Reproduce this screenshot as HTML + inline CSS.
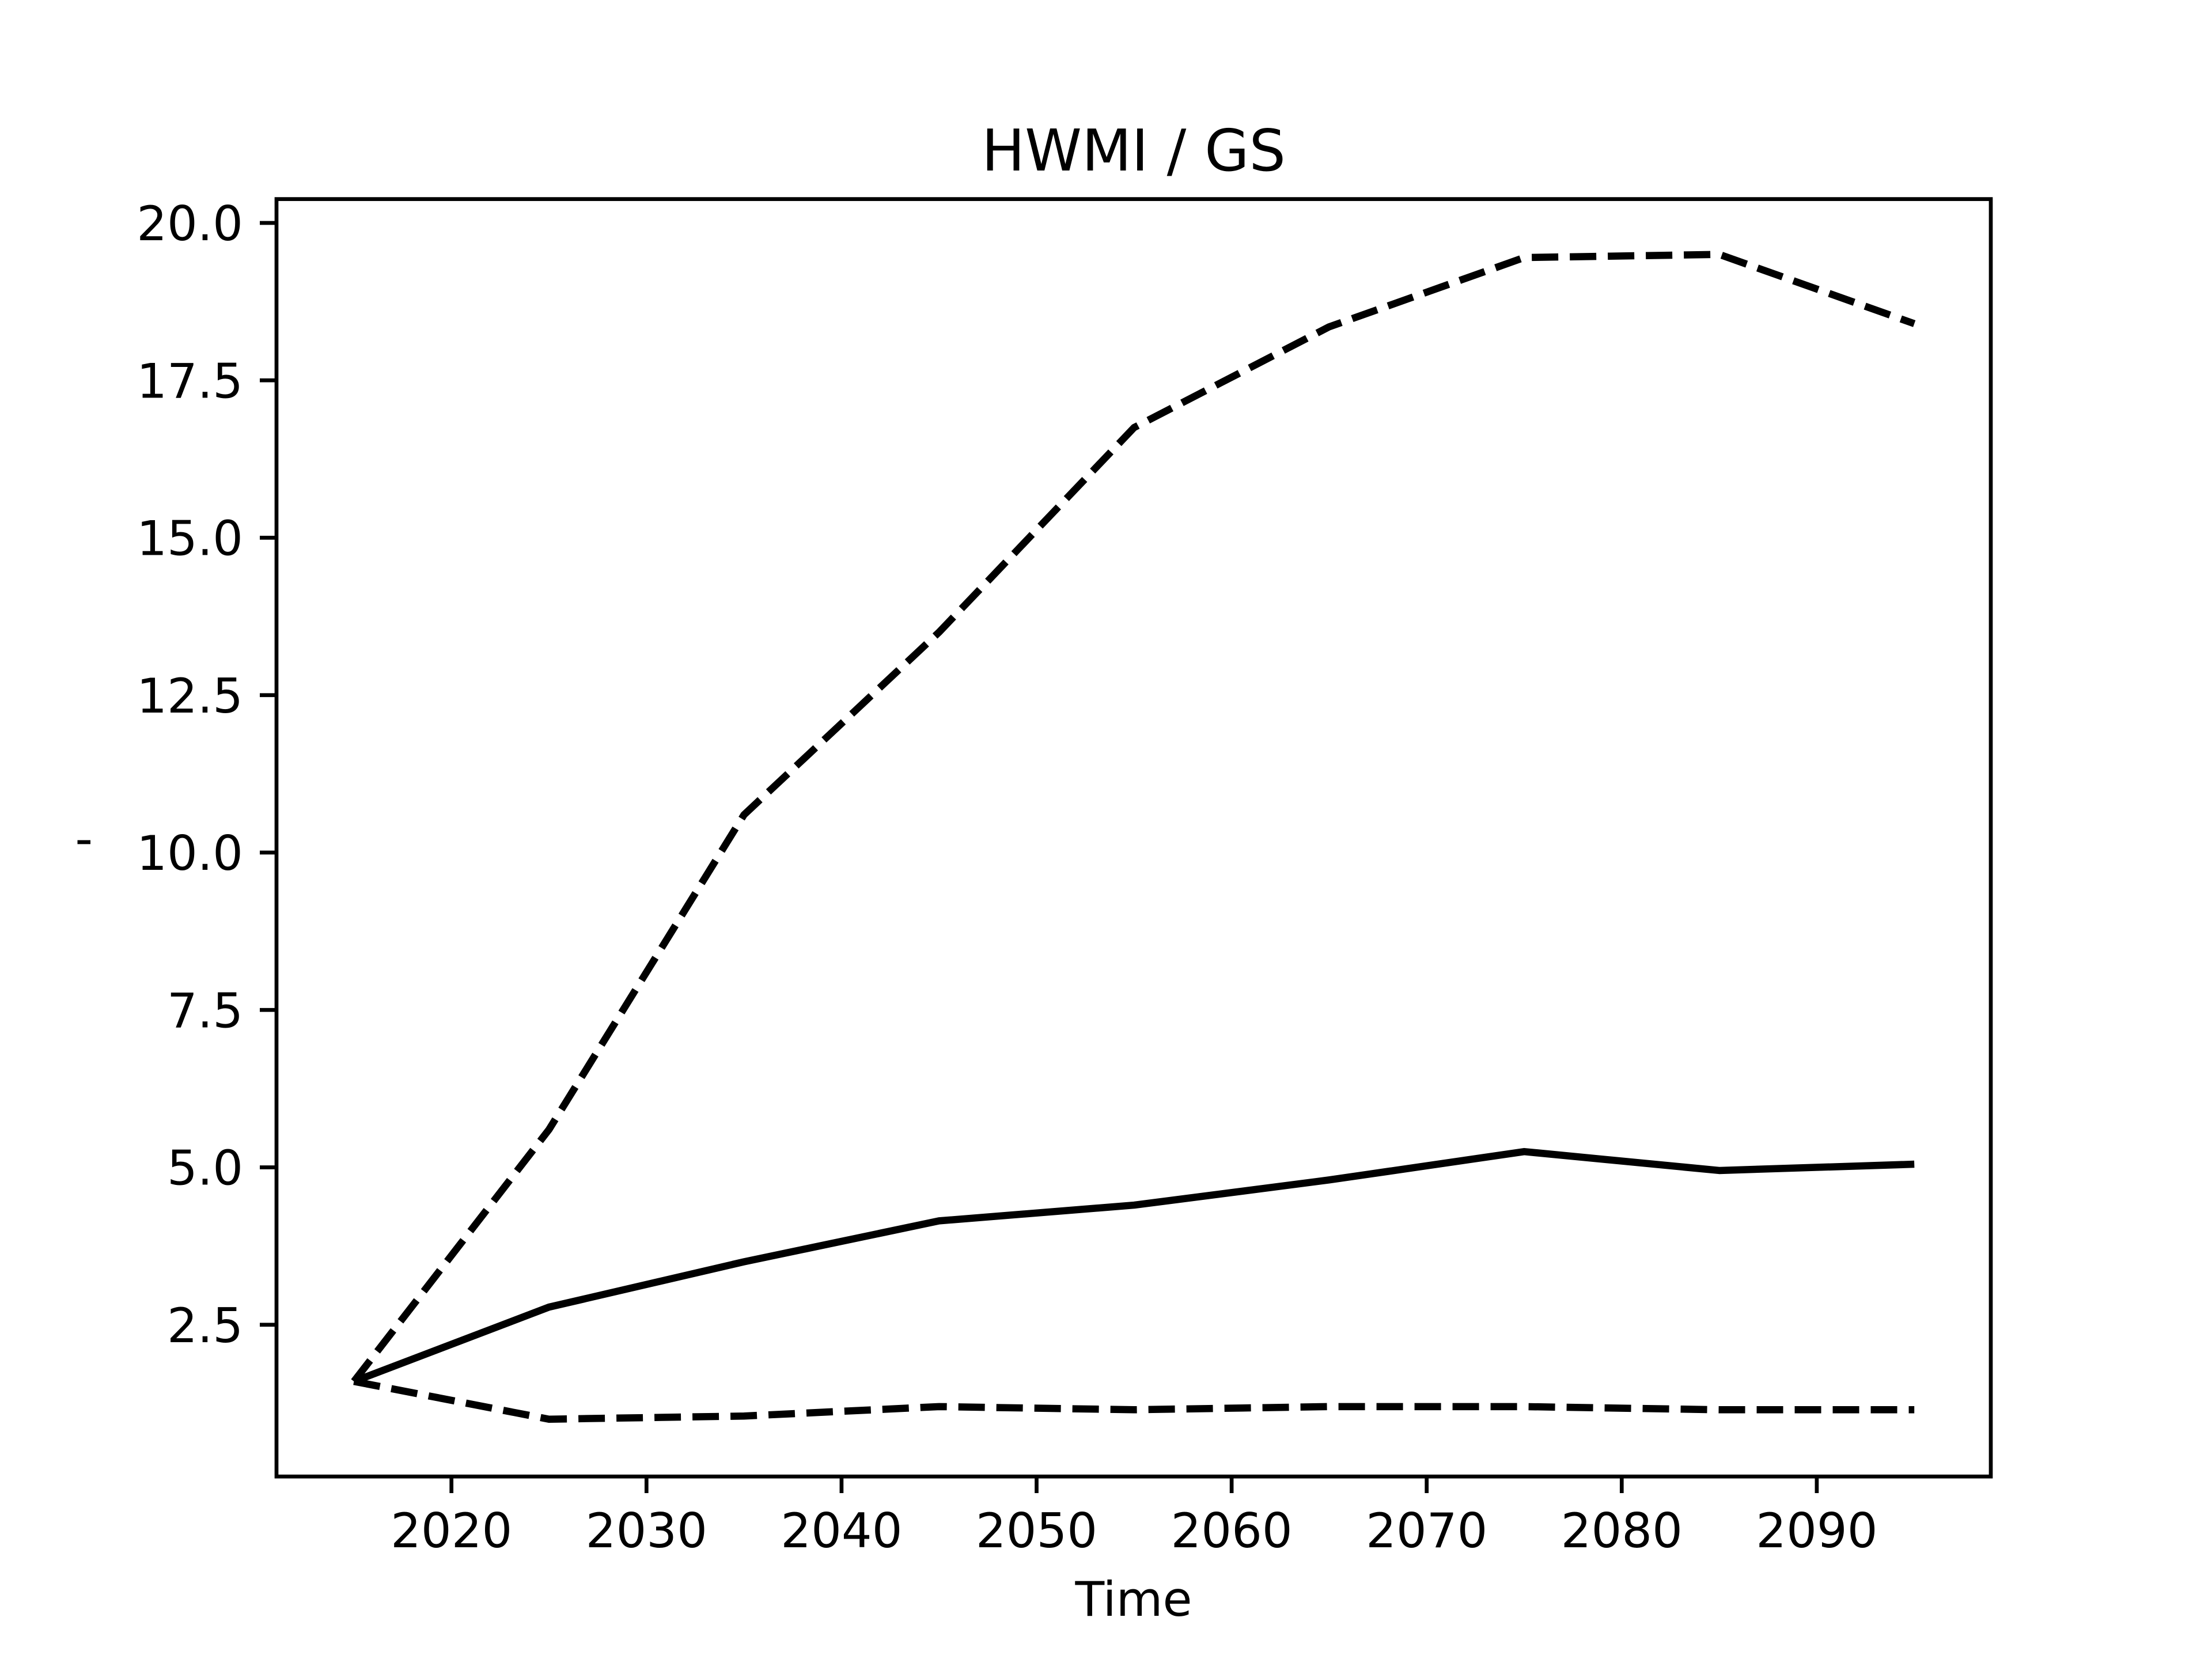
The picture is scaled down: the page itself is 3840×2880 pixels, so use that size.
<!DOCTYPE html>
<html><head><meta charset="utf-8"><style>
html,body{margin:0;padding:0;background:#fff;}
svg{display:block;font-family:"DejaVu Sans","Liberation Sans",sans-serif;}
</style></head><body>
<svg id="chart" width="3840" height="2880" viewBox="0 0 3840 2880" xmlns="http://www.w3.org/2000/svg">
<rect width="3840" height="2880" fill="#fff"/>
<text x="1968" y="296" font-size="100" text-anchor="middle">HWMI / GS</text>
<text x="1968" y="2805" font-size="83" text-anchor="middle">Time</text>
<text x="167" y="1490" font-size="83" text-anchor="middle" transform="rotate(-90 167 1462)">'</text>
<g id="plot"></g>
<rect x="480" y="345.6" width="2976" height="2217.6" fill="none" stroke="#000" stroke-width="6.7"/>
</svg>
<script>
const years = [2015, 2025, 2035, 2045, 2055, 2065, 2075, 2085, 2095];
const medianSeries = [1.6, 2.78, 3.5, 4.15, 4.4, 4.8, 5.25, 4.95, 5.05];
const upperSeries = [1.6, 5.6, 10.6, 13.5, 16.75, 18.35, 19.45, 19.5, 18.4];
const lowerSeries = [1.6, 1.0, 1.05, 1.2, 1.15, 1.2, 1.2, 1.15, 1.15];
const xTicks = [2020, 2030, 2040, 2050, 2060, 2070, 2080, 2090];
const yTicks = [2.5, 5.0, 7.5, 10.0, 12.5, 15.0, 17.5, 20.0];

const NS = "http://www.w3.org/2000/svg";
const g = document.getElementById('plot');
function xs(v){ return 783.7 + (v - 2020) * 33.86; }
function ys(v){ return 2573 - 109.3 * v; }
function el(tag, attrs){ const e = document.createElementNS(NS, tag); for (const k in attrs) e.setAttribute(k, attrs[k]); g.appendChild(e); return e; }

xTicks.forEach(t => {
  const l = el('line', {x1: xs(t), x2: xs(t), y1: 2563.2, y2: 2592, stroke: '#000', 'stroke-width': 6.7});
  
  
  const tx = el('text', {x: xs(t), y: 2686, 'font-size': 83, 'text-anchor': 'middle'});
  tx.textContent = String(t);
  
  
});
yTicks.forEach(t => {
  const l = el('line', {x1: 451, x2: 480, y1: ys(t), y2: ys(t), stroke: '#000', 'stroke-width': 6.7});
  
  
  const tx = el('text', {x: 422, y: ys(t) + 30, 'font-size': 83, 'text-anchor': 'end'});
  tx.textContent = t.toFixed(1);
  
  
});
function series(vals, dashed, name){
  const pts = vals.map((v, i) => xs(years[i]) + ',' + ys(v)).join(' ');
  const p = el('polyline', {points: pts, fill: 'none', stroke: '#000', 'stroke-width': 12.5, 'stroke-linejoin': 'round'});
  if (dashed) p.setAttribute('stroke-dasharray', '46 20');
  
  
}
series(upperSeries, true, 'upper-bound-line');
series(lowerSeries, true, 'lower-bound-line');
series(medianSeries, false, 'median-line');
</script>
</body></html>
